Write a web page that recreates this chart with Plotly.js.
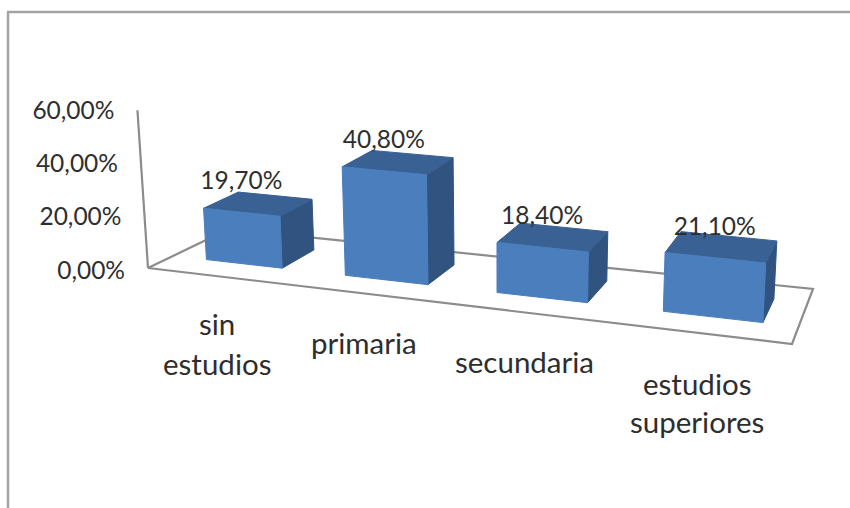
<!DOCTYPE html>
<html><head><meta charset="utf-8">
<script src="https://cdn.plot.ly/plotly-3.0.1.min.js"></script>
<style>html,body{margin:0;padding:0;background:#fff}#c{width:850px;height:508px}</style>
</head><body><div id="c"></div>
<script>
const categoryLines = [["sin","estudios"],["primaria"],["secundaria"],["estudios","superiores"]];
const values = [19.7, 40.8, 18.4, 21.1];
const valueLabels = ["19,70%","40,80%","18,40%","21,10%"];
const tickValues = [0, 20, 40, 60];
const tickLabels = ["0,00%","20,00%","40,00%","60,00%"];

// category label anchors on the chart (pixel x, pixel y per line)
const catLabelX = [217, 364, 524, 697];
const catLabelY = [[323,363],[342],[361],[383,421]];

// floor quad in screen pixels: front-left, front-right, back-right, back-left
const FL=[148,268], FR=[792,344], BR=[813,289], BL=[229,229];
const nCat = values.length;
const barStart = 0.063, barWidth = 0.139, vFront = 0.29, vBack = 0.73;

const dx1=FR[0]-BR[0], dx2=BL[0]-BR[0], sx=FL[0]-FR[0]+BR[0]-BL[0];
const dy1=FR[1]-BR[1], dy2=BL[1]-BR[1], sy=FL[1]-FR[1]+BR[1]-BL[1];
const den=dx1*dy2-dx2*dy1;
const G=(sx*dy2-dx2*sy)/den, H=(dx1*sy-sx*dy1)/den;
function floorPx(u,v){
  const w=1+G*u+H*v;
  return [((FR[0]-FL[0]+G*FR[0])*u+(BL[0]-FL[0]+H*BL[0])*v+FL[0])/w,
          ((FR[1]-FL[1]+G*FR[1])*u+(BL[1]-FL[1]+H*BL[1])*v+FL[1])/w, w];
}
// value axis: pixel y of 0% and pixels per 1%
const zeroPx=271, pxPerUnit=2.667;
const toY=py=>(zeroPx-py)/pxPerUnit;
function project(u,v,h){
  const p=floorPx(u,v);
  const upY=2.63/Math.sqrt(p[2]);
  const upX=(p[0]-500)*0.0005;
  return [p[0]+upX*h, toY(p[1]-upY*h)];
}
function poly(pts,xs,ys){pts.forEach(p=>{xs.push(p[0]);ys.push(p[1]);});xs.push(pts[0][0],null);ys.push(pts[0][1],null);}
const F={x:[],y:[]},T={x:[],y:[]},S={x:[],y:[]};
const lblX=[],lblY=[];
values.forEach((val,i)=>{
  const u0=i/nCat+barStart,u1=u0+barWidth;
  const a=project(u0,vFront,val),b=project(u1,vFront,val),c=project(u1,vFront,0),d=project(u0,vFront,0);
  const e=project(u0,vBack,val),f=project(u1,vBack,val),g=project(u1,vBack,0);
  poly([a,b,c,d],F.x,F.y);
  poly([a,b,f,e],T.x,T.y);
  poly([b,f,g,c],S.x,S.y);
  const top=project((u0+u1)/2,vFront,val);
  lblX.push(top[0]); lblY.push(top[1]+29/pxPerUnit);
});
const grey='#8c8c8c';
const floor=[FL,FR,BR,BL,FL];
const axisTop=project(0,0,60), axisBase=project(0,0,0);
const font={family:'Lato, Carlito, sans-serif',size:24.5,color:'#2e2e2e'};
const catFont={family:'Lato, Carlito, sans-serif',size:29.5,color:'#2e2e2e'};
const fill=(d,c)=>({type:'scatter',mode:'lines',x:d.x,y:d.y,fill:'toself',fillcolor:c,line:{color:c,width:1},hoverinfo:'skip'});
const tickX=tickValues.map(t=>project(0,0,t)[0]-23);
const tickY=tickValues.map(t=>t-1.5/pxPerUnit);
const traces=[
 {type:'scatter',mode:'lines',x:floor.map(p=>p[0]),y:floor.map(p=>toY(p[1])),line:{color:grey,width:2.2},hoverinfo:'skip'},
 {type:'scatter',mode:'lines',x:[axisBase[0],axisTop[0]],y:[axisBase[1],axisTop[1]],line:{color:grey,width:2.2},hoverinfo:'skip'},
 fill(S,'#30547f'),fill(T,'#3a6193'),fill(F,'#4a7ebd'),
 {type:'scatter',mode:'text',x:tickX,y:tickY,text:tickLabels,textposition:'middle left',textfont:font,hoverinfo:'skip'},
 {type:'scatter',mode:'text',x:lblX,y:lblY,text:valueLabels,textposition:'middle center',textfont:font,hoverinfo:'skip'}
];
const annotations=[];
categoryLines.forEach((lines,i)=>lines.forEach((t,j)=>annotations.push({
  xref:'x',yref:'y',x:catLabelX[i],y:toY(catLabelY[i][j]),text:t,showarrow:false,font:catFont,xanchor:'center',yanchor:'middle'})));
const layout={width:850,height:508,margin:{l:0,r:0,t:0,b:0},paper_bgcolor:'#fff',plot_bgcolor:'#fff',showlegend:false,
 xaxis:{range:[0,850],visible:false,fixedrange:true},
 yaxis:{range:[toY(508),toY(0)],visible:false,fixedrange:true},
 annotations:annotations,
 shapes:[
  {type:'line',xref:'paper',yref:'paper',x0:8/850,x1:8/850,y0:0,y1:1-12/508,line:{color:'#a3a3a3',width:2.5}},
  {type:'line',xref:'paper',yref:'paper',x0:7/850,x1:1,y0:1-12/508,y1:1-12/508,line:{color:'#a3a3a3',width:2.5}}
 ]};
Plotly.newPlot('c',traces,layout,{displayModeBar:false,staticPlot:true});
</script></body></html>
